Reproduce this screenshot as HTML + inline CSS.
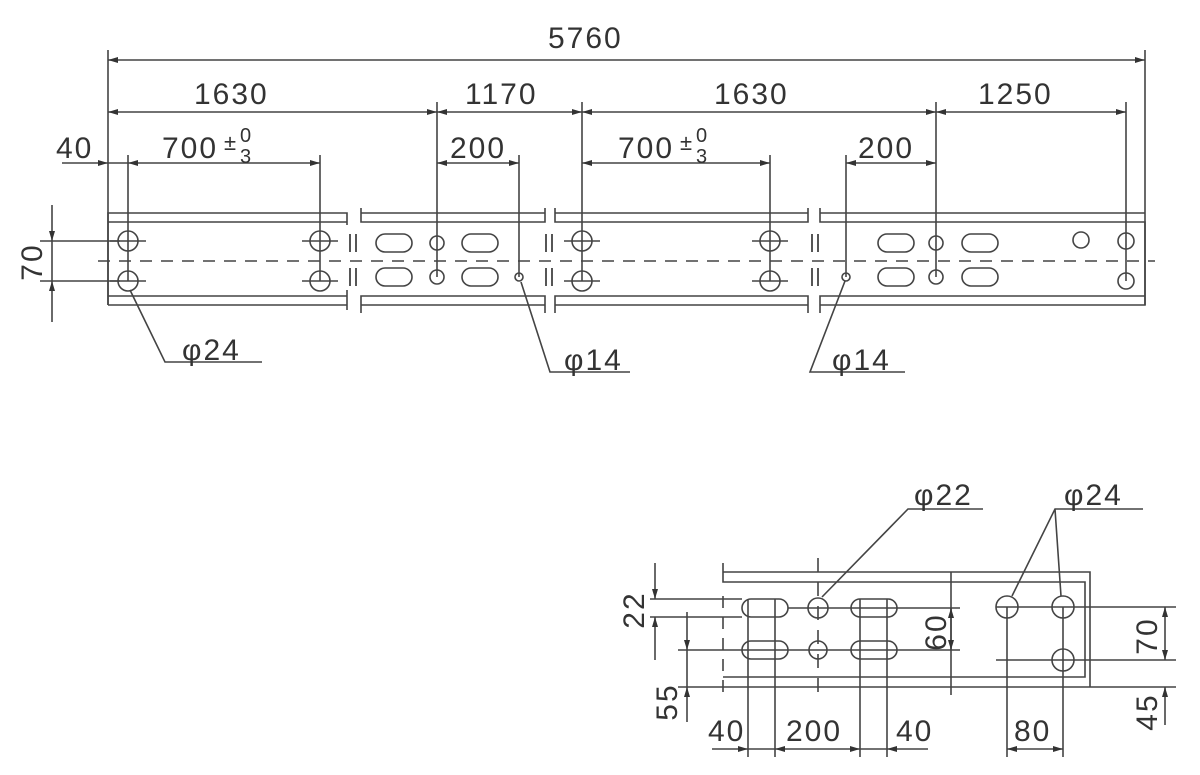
<!DOCTYPE html>
<html><head><meta charset="utf-8"><style>
html,body{margin:0;padding:0;background:#fff;width:1200px;height:775px;overflow:hidden}
svg text{font-family:"Liberation Sans",sans-serif;fill:#333;font-size:30px;letter-spacing:2px}
</style></head><body>
<svg width="1200" height="775" viewBox="0 0 1200 775" xmlns="http://www.w3.org/2000/svg">
<defs>
<marker id="a" viewBox="0 0 10 6" refX="10" refY="3" markerWidth="10" markerHeight="6" orient="auto-start-reverse" markerUnits="userSpaceOnUse"><path d="M0,0L10,3L0,6z" fill="#333"/></marker>
</defs>
<g stroke="#444" stroke-width="1.6" fill="none">
<line x1="108" y1="50" x2="108" y2="305"/>
<line x1="1145" y1="50" x2="1145" y2="305"/>
<line x1="437" y1="102" x2="437" y2="277"/>
<line x1="582" y1="102" x2="582" y2="281"/>
<line x1="936" y1="102" x2="936" y2="277"/>
<line x1="1126" y1="102" x2="1126" y2="281"/>
<line x1="128" y1="155" x2="128" y2="281"/>
<line x1="320" y1="155" x2="320" y2="281"/>
<line x1="519" y1="155" x2="519" y2="277"/>
<line x1="770" y1="155" x2="770" y2="281"/>
<line x1="846" y1="155" x2="846" y2="277"/>
<line x1="108" y1="60" x2="1145" y2="60" marker-start="url(#a)" marker-end="url(#a)"/>
<line x1="108" y1="112" x2="437" y2="112" marker-start="url(#a)" marker-end="url(#a)"/>
<line x1="437" y1="112" x2="582" y2="112" marker-start="url(#a)" marker-end="url(#a)"/>
<line x1="582" y1="112" x2="936" y2="112" marker-start="url(#a)" marker-end="url(#a)"/>
<line x1="936" y1="112" x2="1126" y2="112" marker-start="url(#a)" marker-end="url(#a)"/>
<line x1="62" y1="163" x2="108" y2="163" marker-end="url(#a)"/>
<line x1="108" y1="163" x2="128" y2="163"/>
<line x1="128" y1="163" x2="320" y2="163" marker-start="url(#a)" marker-end="url(#a)"/>
<line x1="437" y1="163" x2="519" y2="163" marker-start="url(#a)" marker-end="url(#a)"/>
<line x1="582" y1="163" x2="770" y2="163" marker-start="url(#a)" marker-end="url(#a)"/>
<line x1="846" y1="163" x2="936" y2="163" marker-start="url(#a)" marker-end="url(#a)"/>
<path d="M108,305V213H347V225M108,222H347"/>
<path d="M108,296H347M347,290V310M108,305H347"/>
<path d="M361,208V222H545V208M361,213H545M361,313V296H545V313M361,305H545"/>
<path d="M555,208V222H808V208M555,213H808M555,313V296H808V313M555,305H808"/>
<path d="M820,208V222H1145V296H820V313M820,213H1145M820,208V222M820,305H1145V296"/>
<line x1="98" y1="261" x2="1155" y2="261" stroke-dasharray="12,9"/>
<g stroke-width="1.8">
<path d="M350,234V252M356,234V252M350,268V286M356,268V286"/>
<path d="M546,234V252M552,234V252M546,268V286M552,268V286"/>
<path d="M812,234V252M818,234V252M812,268V286M818,268V286"/>
</g>
<g>
<circle cx="128" cy="241" r="10"/><circle cx="128" cy="281" r="10"/>
<circle cx="320" cy="241" r="10"/><circle cx="320" cy="281" r="10"/>
<circle cx="582" cy="241" r="10"/><circle cx="582" cy="281" r="10"/>
<circle cx="770" cy="241" r="10"/><circle cx="770" cy="281" r="10"/>
<path d="M110,241H146M110,281H146M302,241H338M302,281H338M564,241H600M564,281H600M752,241H788M752,281H788"/>
<rect x="376" y="234" width="36" height="18" rx="9"/><rect x="376" y="268" width="36" height="18" rx="9"/>
<rect x="462" y="234" width="36" height="18" rx="9"/><rect x="462" y="268" width="36" height="18" rx="9"/>
<circle cx="437" cy="243" r="7"/><circle cx="437" cy="277" r="7"/>
<circle cx="519" cy="277" r="4"/>
<rect x="878" y="234" width="36" height="18" rx="9"/><rect x="878" y="268" width="36" height="18" rx="9"/>
<rect x="962" y="234" width="36" height="18" rx="9"/><rect x="962" y="268" width="36" height="18" rx="9"/>
<circle cx="936" cy="243" r="7"/><circle cx="936" cy="277" r="7"/>
<circle cx="846" cy="277" r="4"/>
<circle cx="1081" cy="240" r="8"/><circle cx="1126" cy="241" r="8"/><circle cx="1126" cy="281" r="8"/>
</g>
<line x1="40" y1="241" x2="120" y2="241"/><line x1="40" y1="281" x2="120" y2="281"/>
<line x1="52" y1="205" x2="52" y2="241" marker-end="url(#a)"/>
<line x1="52" y1="322" x2="52" y2="281" marker-end="url(#a)"/>
<line x1="52" y1="241" x2="52" y2="281"/>
<path d="M262,362H165L130,290"/>
<path d="M630,372H550L521,282"/>
<path d="M905,372H810L845,281"/>

<!-- bottom detail -->
<path d="M723,563V582H1085V677H723M723,572H1090V687"/>
<line x1="723" y1="596" x2="723" y2="692" stroke-dasharray="12,9"/>
<line x1="818" y1="558" x2="818" y2="700" stroke-dasharray="14,10"/>
<rect x="742" y="599" width="46" height="18" rx="9"/><rect x="742" y="641" width="46" height="18" rx="9"/>
<rect x="851" y="599" width="46" height="18" rx="9"/><rect x="851" y="641" width="46" height="18" rx="9"/>
<circle cx="818" cy="608" r="10"/><circle cx="818" cy="650" r="9"/>
<circle cx="1007" cy="607" r="11"/><circle cx="1063" cy="607" r="11"/><circle cx="1063" cy="660" r="11"/>
<line x1="650" y1="599" x2="742" y2="599"/>
<line x1="650" y1="617" x2="742" y2="617"/>
<line x1="788" y1="608" x2="960" y2="608"/>
<line x1="678" y1="650" x2="960" y2="650"/>
<line x1="678" y1="687" x2="1176" y2="687"/>
<line x1="996" y1="607" x2="1176" y2="607"/>
<line x1="996" y1="660" x2="1176" y2="660"/>
<line x1="655" y1="563" x2="655" y2="599" marker-end="url(#a)"/>
<line x1="655" y1="660" x2="655" y2="617" marker-end="url(#a)"/>
<line x1="687" y1="612" x2="687" y2="650" marker-end="url(#a)"/>
<line x1="687" y1="722" x2="687" y2="687" marker-end="url(#a)"/>
<line x1="687" y1="650" x2="687" y2="687"/>
<line x1="951" y1="572" x2="951" y2="695"/>
<line x1="951" y1="630" x2="951" y2="608" marker-end="url(#a)"/>
<line x1="951" y1="630" x2="951" y2="650" marker-end="url(#a)"/>
<line x1="1165" y1="607" x2="1165" y2="660" marker-start="url(#a)" marker-end="url(#a)"/>
<line x1="1165" y1="725" x2="1165" y2="687" marker-end="url(#a)"/>
<line x1="748" y1="599" x2="748" y2="757"/><line x1="775" y1="599" x2="775" y2="757"/>
<line x1="860" y1="599" x2="860" y2="757"/><line x1="887" y1="599" x2="887" y2="757"/>
<line x1="1007" y1="607" x2="1007" y2="757"/><line x1="1063" y1="607" x2="1063" y2="757"/>
<line x1="712" y1="749" x2="748" y2="749" marker-end="url(#a)"/>
<line x1="748" y1="749" x2="775" y2="749"/>
<line x1="775" y1="749" x2="860" y2="749" marker-start="url(#a)" marker-end="url(#a)"/>
<line x1="860" y1="749" x2="887" y2="749"/>
<line x1="928" y1="749" x2="887" y2="749" marker-end="url(#a)"/>
<line x1="1007" y1="749" x2="1063" y2="749" marker-start="url(#a)" marker-end="url(#a)"/>
<path d="M983,509H908L822,597"/>
<path d="M1143,509H1055L1012,596M1055,509L1061,596"/>
</g>
<g>
<text x="548" y="48">5760</text>
<text x="194" y="104">1630</text>
<text x="465" y="104">1170</text>
<text x="714" y="104">1630</text>
<text x="978" y="104">1250</text>
<text x="56" y="158">40</text>
<text x="162" y="158">700</text>
<text x="224" y="150" style="font-size:22px">±</text>
<text x="240" y="142" style="font-size:20px">0</text>
<text x="240" y="163" style="font-size:20px">3</text>
<text x="450" y="158">200</text>
<text x="618" y="158">700</text>
<text x="680" y="150" style="font-size:22px">±</text>
<text x="696" y="142" style="font-size:20px">0</text>
<text x="696" y="163" style="font-size:20px">3</text>
<text x="858" y="158">200</text>
<text transform="translate(42,262) rotate(-90)" text-anchor="middle">70</text>
<text x="182" y="360">φ24</text>
<text x="564" y="370">φ14</text>
<text x="832" y="370">φ14</text>
<text x="914" y="505">φ22</text>
<text x="1064" y="505">φ24</text>
<text transform="translate(644,610) rotate(-90)" text-anchor="middle">22</text>
<text transform="translate(677,702) rotate(-90)" text-anchor="middle">55</text>
<text transform="translate(946,632) rotate(-90)" text-anchor="middle">60</text>
<text transform="translate(1157,636) rotate(-90)" text-anchor="middle">70</text>
<text transform="translate(1157,712) rotate(-90)" text-anchor="middle">45</text>
<text x="708" y="741">40</text>
<text x="786" y="741">200</text>
<text x="896" y="741">40</text>
<text x="1014" y="741">80</text>
</g>
</svg>
</body></html>
